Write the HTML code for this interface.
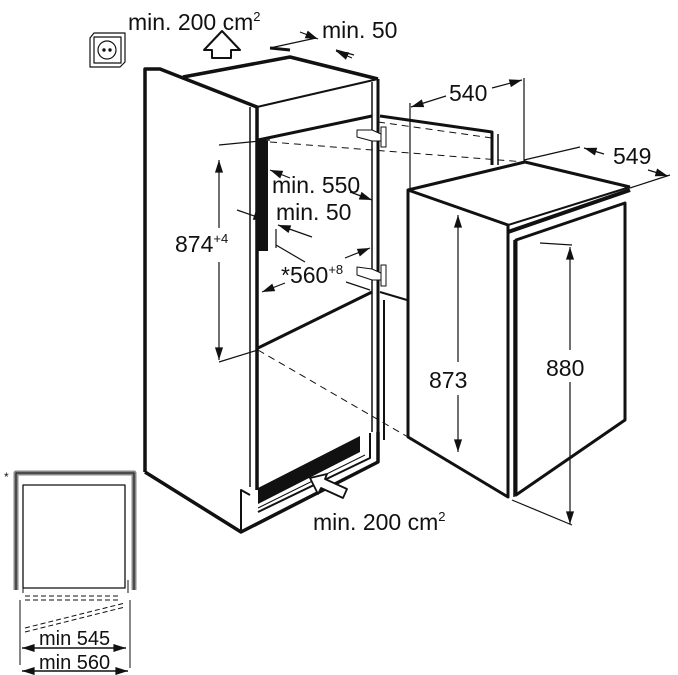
<!DOCTYPE html>
<html><head><meta charset="utf-8"><style>
html,body{margin:0;padding:0;background:#fff;width:678px;height:675px;overflow:hidden}
svg{display:block}
text{font-family:"Liberation Sans",Arial,sans-serif;fill:#111}
</style></head><body>
<svg width="678" height="675" viewBox="0 0 678 675" xmlns="http://www.w3.org/2000/svg">
<defs>
<marker id="a" viewBox="0 0 14 10" refX="14" refY="5" markerUnits="userSpaceOnUse" markerWidth="14" markerHeight="9" orient="auto-start-reverse"><path d="M0,0.5 L14,5 L0,9.5 Z" fill="#111"/></marker>
</defs>
<g fill="none" stroke="#111" stroke-linejoin="round">
<!-- socket -->
<path d="M90,38 L94,33 L125,33 L125,62 L120,67 L90,67 Z" stroke-width="1.2"/>
<rect x="94" y="37" width="27" height="26" stroke-width="1.2"/>
<circle cx="107" cy="50" r="9" stroke-width="1.2"/>
<circle cx="104" cy="50" r="1.2" fill="#111"/><circle cx="110" cy="50" r="1.2" fill="#111"/>
<!-- up arrow -->
<path d="M212,58 L212,50 L204,50 L222,31 L240,50 L231,50 L231,58 Z" stroke-width="2"/>
<!-- cabinet outer -->
<path d="M145,472 L145,69 L160,69 L257,107 L257,490" stroke-width="3.5"/>
<path d="M250,107 L250,487" stroke-width="1.5"/>
<path d="M145,472 L241,532 L378,462 L378,432" stroke-width="3.5"/>
<path d="M183,77 L290,57 L378,79" stroke-width="3.5"/>
<path d="M270,48 L290,50" stroke-width="3"/>
<path d="M257,107 L378,79" stroke-width="2"/>
<path d="M378,79 L378,432" stroke-width="3"/>
<path d="M372,82 L372,432" stroke-width="1.5"/>
<!-- inner opening -->
<path d="M258,140 L372,116" stroke-width="3"/>
<rect x="258" y="141" width="10" height="110" fill="#111" stroke="none"/>
<path d="M258,348 L372,292" stroke-width="3"/>
<!-- plinth slot -->
<path d="M258,504 L360,452 L360,436 L258,488 Z" fill="#111" stroke="none"/>
<path d="M258,512 L370,458 L370,433" stroke-width="2"/>
<path d="M258,508 L365,455" stroke-width="1"/>
<path d="M241,530 L241,490 L250,495" stroke-width="2"/>
<!-- bottom vent arrow -->
<path d="M310,478 L318,494 L321,488 L343,498 L347,489 L325,479 L327,474 Z" fill="#fff" stroke-width="1.8"/>
<!-- door -->
<path d="M380,116 L492,132 L492,165" stroke-width="3"/>
<path d="M498,134 L498,165" stroke-width="1.5"/>
<path d="M380,292 L407,300" stroke-width="2"/>
<path d="M384,300 L384,440" stroke-width="2"/>
<!-- hinges -->
<path d="M357,130 L372,130 L381,134 L381,141 L372,141 L357,137 Z" fill="#fff" stroke-width="1"/>
<rect x="381" y="127" width="5" height="20" fill="#fff" stroke-width="1"/>
<path d="M357,267 L372,269 L381,273 L381,280 L372,280 L357,275 Z" fill="#fff" stroke-width="1"/>
<rect x="381" y="265" width="5" height="21" fill="#fff" stroke-width="1"/>
<!-- dashed -->
<path d="M270,142 L525,162" stroke-width="1" stroke-dasharray="7,5"/>
<path d="M378,122 L492,138" stroke-width="1" stroke-dasharray="7,5"/>
<path d="M258,350 L408,437" stroke-width="1" stroke-dasharray="7,5"/>
<!-- appliance -->
<path d="M408,190 L525,162 L630,187" stroke-width="3"/>
<path d="M408,190 L508,225 L508,497 L408,437 Z" stroke-width="3"/>
<path d="M508,225 L630,187" stroke-width="2"/>
<path d="M508,232 L630,190" stroke-width="4"/>
<path d="M516,240 L625,203 L625,420 L516,495 Z" stroke-width="3"/>
<path d="M514,240 L514,497" stroke-width="1.5"/>
<!-- dims -->
<g stroke-width="1.2">
<path d="M219,145 L270,140"/><path d="M219,362 L258,350"/>
<path d="M219,160 L219,228" marker-start="url(#a)"/><path d="M219,262 L219,360" marker-end="url(#a)"/>
<path d="M410,103 L410,190"/><path d="M524,78 L524,162"/>
<path d="M446,96 L411,107" marker-end="url(#a)"/><path d="M492,88 L522,80" marker-end="url(#a)"/>
<path d="M524,160 L580,147"/><path d="M604,154 L584,148" marker-end="url(#a)"/>
<path d="M630,188 L670,175"/><path d="M648,170 L668,176" marker-end="url(#a)"/>
<path d="M458,215 L458,362" marker-start="url(#a)"/><path d="M458,395 L458,452" marker-end="url(#a)"/>
<path d="M540,243 L572,245"/><path d="M512,500 L572,525"/>
<path d="M570,247 L570,350" marker-start="url(#a)"/><path d="M570,382 L570,524" marker-end="url(#a)"/>
<path d="M270,48 L316,38"/><path d="M300,32 L318,39" marker-end="url(#a)"/>
<path d="M336,50 L354,55"/><path d="M352,58 L336,51" marker-end="url(#a)"/>
<path d="M290,178 L270,170" marker-end="url(#a)"/><path d="M350,192 L372,200" marker-end="url(#a)"/>
<path d="M237,210 L266,220" marker-end="url(#a)"/><path d="M312,237 L278,225" marker-end="url(#a)"/>
<path d="M276,229 L276,248"/><path d="M276,245 L305,262"/>
<path d="M345,258 L370,248" marker-end="url(#a)"/><path d="M285,283 L262,292" marker-end="url(#a)"/>
<path d="M346,282 L370,290"/>
</g>
<!-- small plan -->
<path d="M16,590 L16,473 L134,473 L134,590" stroke="#888" stroke-width="5"/>
<path d="M16,590 L16,473 L134,473 L134,590" stroke-width="1"/>
<rect x="23" y="485" width="102" height="103" stroke-width="1.3"/>
<path d="M23,588 L23,593 M128,580 L128,593" stroke-width="1"/>
<g stroke-width="1" stroke-dasharray="5,3">
<path d="M25,596 L118,596"/><path d="M25,600 L118,600"/>
<path d="M25,628 L125,603"/><path d="M25,632 L125,607"/>
</g>
<path d="M20,600 L20,665 M130,600 L130,668" stroke-width="1"/>
<path d="M22,648 L126,648" stroke-width="1.5" marker-start="url(#a)" marker-end="url(#a)"/>
<path d="M22,671 L128,671" stroke-width="1.5" marker-start="url(#a)" marker-end="url(#a)"/>
</g>
<text x="128" y="30" font-size="23">min. 200 cm<tspan font-size="13" dy="-9">2</tspan></text>
<text x="322" y="38" font-size="23">min. 50</text>
<text x="449" y="101" font-size="23">540</text>
<text x="613" y="164" font-size="23">549</text>
<text x="175" y="252" font-size="23">874<tspan font-size="13" dy="-9">+4</tspan></text>
<text x="272" y="193" font-size="23">min. 550</text>
<text x="276" y="220" font-size="23">min. 50</text>
<text x="281" y="283" font-size="23">*560<tspan font-size="13" dy="-9">+8</tspan></text>
<text x="429" y="388" font-size="23">873</text>
<text x="546" y="376" font-size="23">880</text>
<text x="313" y="530" font-size="23">min. 200 cm<tspan font-size="13" dy="-9">2</tspan></text>
<text x="4" y="481" font-size="12">*</text>
<text x="39" y="645" font-size="20">min 545</text>
<text x="39" y="669" font-size="20">min 560</text>
</svg>
</body></html>
